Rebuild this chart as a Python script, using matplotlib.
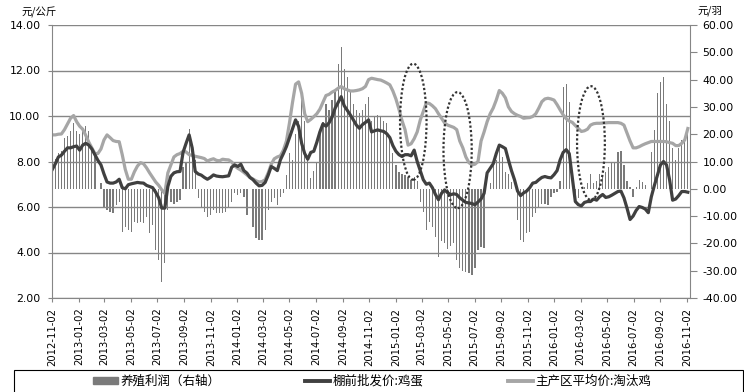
import pandas as pd
import matplotlib.pyplot as plt
import matplotlib.dates as mdates
from matplotlib.patches import Ellipse, Rectangle
from matplotlib.lines import Line2D
from matplotlib.ticker import FuncFormatter, MultipleLocator

plt.rcParams['font.family'] = ['DejaVu Sans', 'Noto Sans CJK SC']

# weekly data, first week 2012-11-02
dates = pd.date_range('2012-11-02', periods=210, freq='7D')

egg_price = [
    7.65, 7.9, 8.2, 8.28, 8.45, 8.6, 8.6, 8.65, 8.68, 8.5,
    8.72, 8.8, 8.72, 8.55, 8.3, 8.05, 7.85, 7.45, 7.1, 7.05,
    7.05, 7.1, 7.22, 6.85, 6.8, 6.98, 7.02, 7.05, 7.08, 7.06,
    7.05, 6.95, 6.9, 6.85, 6.65, 6.4, 5.95, 5.95, 6.9, 7.35,
    7.5, 7.55, 7.56, 8.4, 8.8, 9.17, 8.6, 7.56, 7.45, 7.4,
    7.3, 7.22, 7.3, 7.41, 7.36, 7.34, 7.33, 7.35, 7.37, 7.75,
    7.85, 7.78, 7.88, 7.6, 7.49, 7.3, 7.2, 7.05, 6.93, 6.95,
    7.08, 7.4, 7.78, 7.7, 7.6, 8.07, 8.35, 8.66, 9.05, 9.45,
    9.83, 9.54, 8.8, 8.35, 8.1, 8.4, 8.45, 8.85, 9.3, 9.65,
    9.55, 9.7, 9.95, 10.34, 10.6, 10.85, 10.45, 10.25, 10.05, 9.83,
    9.6, 9.46, 9.62, 9.72, 9.83, 9.3, 9.35, 9.39, 9.35, 9.32,
    9.22, 9.05, 8.7, 8.45, 8.3, 8.22, 8.3, 8.3, 8.25, 8.5,
    8.0, 7.6, 7.2, 7.0, 7.05, 6.85, 6.55, 6.32, 6.6, 6.75,
    6.63, 6.54, 6.58, 6.55, 6.4, 6.3, 6.2, 6.18, 6.15, 6.1,
    6.22, 6.35, 6.6, 7.5, 7.7, 7.9, 8.35, 8.72, 8.65, 8.57,
    8.07, 7.6, 7.2, 6.7, 6.5, 6.62, 6.7, 6.85, 7.05, 7.08,
    7.2, 7.3, 7.34, 7.3, 7.28, 7.42, 7.6, 8.07, 8.4, 8.52,
    8.35, 7.3, 6.24, 6.1, 6.05, 6.2, 6.24, 6.24, 6.35, 6.3,
    6.45, 6.55, 6.42, 6.45, 6.52, 6.6, 6.68, 6.7, 6.4, 5.95,
    5.45, 5.6, 5.85, 6.02, 5.98, 5.91, 5.75, 6.45, 6.95, 7.4,
    7.85, 8.0, 7.85, 7.2, 6.3, 6.35, 6.5, 6.68, 6.68, 6.65,
]

hen_price = [
    9.17, 9.17, 9.2, 9.21, 9.4, 9.65, 9.9, 10.02, 9.75, 9.55,
    9.42, 9.15, 8.85, 8.6, 8.35, 8.35, 8.55, 8.95, 9.17, 9.05,
    8.92, 8.88, 8.87, 8.3, 7.65, 7.22, 7.22, 7.55, 7.8, 7.95,
    7.9, 7.72, 7.5, 7.3, 7.1, 6.95, 6.75, 6.6, 7.5, 7.85,
    8.2, 8.3, 8.35, 8.45, 8.42, 8.3, 8.27, 8.23, 8.2, 8.17,
    8.13, 8.02, 8.08, 8.12, 8.05, 8.03, 8.1, 8.08, 8.07, 7.98,
    7.8, 7.7, 7.62, 7.52, 7.41, 7.3, 7.23, 7.15, 7.1, 7.12,
    7.2, 7.5, 7.88, 8.12, 8.2, 8.25, 8.5, 8.9, 9.7, 10.6,
    11.4, 11.5, 11.0, 10.1, 9.75, 9.85, 9.97, 10.1, 10.3, 10.6,
    10.9, 10.95, 11.05, 11.12, 11.22, 11.3, 11.2, 11.15, 11.1, 11.1,
    11.12, 11.15, 11.2, 11.3, 11.6, 11.66, 11.63, 11.6, 11.58, 11.52,
    11.45, 11.37, 11.1, 10.75, 10.3, 9.8, 9.4, 8.72, 8.78, 9.0,
    9.3, 9.82, 10.2, 10.58, 10.55, 10.45, 10.32, 10.1, 9.9, 9.7,
    9.6, 9.55, 9.5, 9.4, 8.9, 8.6, 8.2, 7.95, 7.85, 7.88,
    8.0, 8.9, 9.3, 9.75, 10.1, 10.35, 10.7, 11.12, 11.0, 10.8,
    10.4, 10.2, 10.1, 10.03, 9.98, 9.9, 9.92, 9.93, 9.98, 10.1,
    10.35, 10.63, 10.75, 10.78, 10.75, 10.7, 10.5, 10.27, 10.05, 9.88,
    9.78, 9.72, 9.58, 9.45, 9.32, 9.35, 9.42, 9.6, 9.66, 9.68,
    9.68, 9.69, 9.7, 9.71, 9.71, 9.71, 9.71, 9.68, 9.6, 9.25,
    8.9, 8.6, 8.6, 8.65, 8.72, 8.78, 8.83, 8.88, 8.88, 8.88,
    8.88, 8.88, 8.87, 8.83, 8.8, 8.7, 8.7, 8.8, 8.95, 9.45,
]

profit = [
    3.4, 11, 13, 14, 18.5, 19.5, 21, 24, 21, 20,
    22, 23, 21, 15, 12, 0, 2.3, -7, -7.8, -8.4,
    -8.8, -6, -4.8, -15.7, -13.9, -15, -15.7, -12, -12.4, -12,
    -12.7, -10.2, -16.3, -13.3, -22.4, -26, -34, -27.3, -7.8, -4.8,
    -5.4, -4.8, -4.1, 8, 9.3, 22, 11.7, 10.5, -3.5, -7.2,
    -8.4, -10.2, -9.6, -7.8, -9, -9, -9, -8.4, -6.6, -4.8,
    -1.7, -2.3, -1.7, -2.9, -9.6, 0, -14, -18, -18.8, -18.8,
    -15, -7.8, -4.8, -3.5, -6, -2.9, -1.7, 5, 13, 10.5,
    20, 25, 33, 25, 10.5, 4, 6.5, 9.3, 21.5, 24.5,
    31, 28.8, 32.4, 36, 45.8, 52, 44, 41, 36, 31,
    28.8, 27.6, 28.8, 31, 33.7, 25, 26.3, 27, 26.3, 25,
    24, 19, 13, 8.7, 6.2, 5.6, 5, 4.4, 3.2, 4.4,
    3, -4.8, -8.4, -15, -12, -14, -17.6, -25, -19, -20,
    -22, -21, -20, -26, -29, -30, -30.5, -31, -31.6, -29,
    -22.4, -21.2, -21.8, 0, 2, 9.3, 10.5, 15.4, 11.7, 6.2,
    5.6, 2.6, 0, -11.5, -18.8, -19.4, -16.3, -15.7, -10.2, -9,
    -6.6, -5.4, -5.4, -6, -3, -1.7, -1, 3, 37.3, 38.5,
    31.8, 0, -4, -3.5, 0, 0.7, 2, 5.6, 2, 3,
    5.6, 5, 6.2, 8, 9.3, 9.9, 13.5, 13.8, 8.7, 3,
    0.7, -3, 0.7, 3.2, 2.6, 1.3, 0, 13.5, 21.5, 35,
    39, 41, 31, 25, 15, 10.5, 14.8, 17.8, 18.4, 20,
]

labels = ['养殖利润（右轴）', '棚前批发价:鸡蛋', '主产区平均价:淘汰鸡']
bar_color = '#7a7a7a'
egg_color = '#404040'
hen_color = '#a6a6a6'
axis_color = '#868686'
cjk = 'Noto Sans CJK SC'

W, H = 744, 392
fig = plt.figure(figsize=(W / 100, H / 100), dpi=100)
ax = fig.add_axes([52.3 / W, 1 - 298 / H, (690 - 52.3) / W, 273 / H])
ax2 = ax.twinx()
ax.set_zorder(ax2.get_zorder() + 1)
ax.patch.set_visible(False)

ax2.bar(dates, profit, width=2.9, color=bar_color, linewidth=0)
ax.plot(dates, hen_price, color=hen_color, lw=2.3, solid_joinstyle='round')
ax.plot(dates, egg_price, color=egg_color, lw=2.3, solid_joinstyle='round')

ax.set_xlim(dates[0], dates[0] + pd.Timedelta(days=1468))
ax.set_ylim(2, 14)
ax2.set_ylim(-40, 60)
ax.yaxis.set_major_locator(MultipleLocator(2))
ax2.yaxis.set_major_locator(MultipleLocator(10))
fmt = FuncFormatter(lambda v, p: '{:.2f}'.format(v))
ax.yaxis.set_major_formatter(fmt)
ax2.yaxis.set_major_formatter(fmt)

for v in ax.get_yticks()[1:-1]:
    ax.axhline(v, color=axis_color, lw=1, zorder=0.5)

ax.xaxis.set_major_locator(mdates.MonthLocator(bymonth=[1, 3, 5, 7, 9, 11], bymonthday=2))
ax.xaxis.set_major_formatter(mdates.DateFormatter('%Y-%m-%d'))
ax.tick_params(axis='x', labelsize=7.2, length=3, color=axis_color, pad=4, labelrotation=90)
ax.tick_params(axis='y', labelsize=7.8, length=3, color=axis_color, pad=5.5)
ax2.tick_params(axis='y', labelsize=7.8, length=5, color=axis_color, pad=4)

for s in ['top', 'right']:
    ax.spines[s].set_visible(False)
for s in ['top', 'left', 'bottom']:
    ax2.spines[s].set_visible(False)
ax.spines['left'].set_color(axis_color)
ax.spines['bottom'].set_color(axis_color)
ax2.spines['right'].set_color(axis_color)

# dotted ellipses marking the highlighted periods
marks = [(831, 9.75, 61, 5.1), (933, 8.5, 65, 5.1), (1240, 8.81, 64, 5.0)]
for day, yc, w, h in marks:
    xc = mdates.date2num(dates[0] + pd.Timedelta(days=day))
    ax.add_patch(Ellipse((xc, yc), w, h, fill=False, edgecolor='#333333',
                         lw=1.6, linestyle=(0, (1, 1)), zorder=5))

fig.text(39 / W, 1 - 12.5 / H, '元/公斤', ha='center', va='center', fontsize=7.5, family=cjk)
fig.text(710 / W, 1 - 11 / H, '元/羽', ha='center', va='center', fontsize=7.5, family=cjk)

handles = [Rectangle((0, 0), 1, 1, color=bar_color),
           Line2D([], [], color=egg_color, lw=2.8),
           Line2D([], [], color=hen_color, lw=2.8)]
for hnd, lab, x0 in zip(handles, labels, [93, 305, 508]):
    fig.legend([hnd], [lab], loc='center left', bbox_to_anchor=(x0 / W, 1 - 381 / H),
               frameon=False, prop={'family': cjk, 'size': 9}, handlelength=2.0,
               handletextpad=0.2, borderpad=0, borderaxespad=0, handleheight=0.5)
fig.add_artist(Rectangle((14 / W, -0.05), (743 - 14) / W, 0.05 + 1 - 370 / H,
                         transform=fig.transFigure, fill=False, edgecolor='black', lw=0.8))

fig.savefig('out.png', dpi=100)
